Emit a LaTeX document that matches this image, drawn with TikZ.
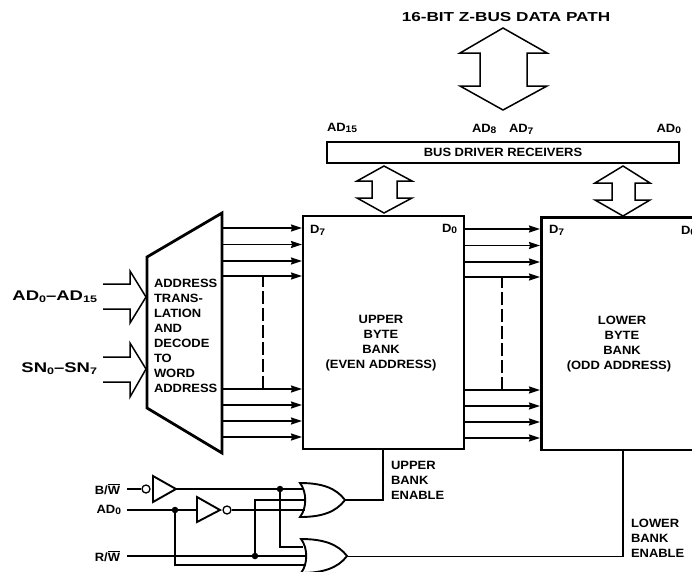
\documentclass[tikz,border=0pt]{standalone}
\usepackage{fontspec}
\setmainfont{Liberation Sans}
\newfontfamily\widefont[FakeStretch=1.08]{Liberation Sans}
\newfontfamily\widerfont[FakeStretch=1.32]{Liberation Sans}
\newcommand{\lowsub}[1]{\raisebox{-0.28ex}{\fontsize{9.5}{9.5}\selectfont #1}}
\newcommand{\barW}{$\overline{\mbox{\bfseries W}}$}
\usetikzlibrary{arrows.meta}
\tikzset{
  x=1pt,y=-1pt,
  lbl/.style={font=\widefont\fontsize{12}{15}\selectfont\bfseries,inner sep=0pt,outer sep=0pt},
  lblw/.style={lbl,anchor=west},
  lble/.style={lbl,anchor=east},
  lblc/.style={lbl,align=center},
  big/.style={font=\widerfont\fontsize{13}{15}\selectfont\bfseries,inner sep=0pt,outer sep=0pt},
  bigin/.style={font=\widerfont\fontsize{14}{15}\selectfont\bfseries,inner sep=0pt,outer sep=0pt,anchor=east},
  bankbox/.style={draw,line width=2.6pt,inner sep=0pt,minimum width=161pt,minimum height=233pt},
  wire/.style={line width=1.4pt},
  busarr/.style={wire,-{Stealth[length=11pt,width=7pt,inset=1pt]}},
  outline/.style={line width=1.5pt,line join=miter,fill=white},
  gate/.style={line width=1.9pt,fill=white},
  dot/.style={circle,fill=black,inner sep=0pt,minimum size=6.5pt},
  bubble/.style={circle,draw,line width=1.3pt,fill=white,inner sep=0pt,minimum size=8pt},
  dashwire/.style={wire,dash pattern=on 13pt off 4pt},
}
\begin{document}
\begin{tikzpicture}
\useasboundingbox (0,0) rectangle (692,571);
% title and bus arrow
\node[big] (title) at (506,17) {16-BIT Z-BUS DATA PATH};
\draw[outline] (503,28) -- (547,53) -- (527,53) -- (527,86) -- (547,86) -- (503,110) -- (460,86) -- (480,86) -- (480,53) -- (460,53) -- cycle;
% bus driver
\node[draw,line width=2.6pt,inner sep=0pt,minimum width=352pt,minimum height=21pt,lbl] (driver) at (503,152.5) {BUS DRIVER RECEIVERS};
\node[lblw] (ad15) at (327,128) {AD\lowsub{15}};
\node[lblw] (ad8) at (472,129) {AD\lowsub{8}};
\node[lblw] (ad7) at (509,129) {AD\lowsub{7}};
\node[lble] (ad0top) at (681,129) {AD\lowsub{0}};
% banks
\node[bankbox] (upper) at (383.5,332.5) {};
\draw[line width=2.6pt] (692,217.5) -- (541.5,217.5) -- (541.5,450) -- (692,450);
\coordinate (lowerW) at (541,333);
\node[lblc] (uppertxt) at (381,343) {UPPER\\BYTE\\BANK\\(EVEN ADDRESS)};
\node[lblc] (lowertxt) at (619,344) {\hspace{6pt}LOWER\\\hspace{6pt}BYTE\\\hspace{6pt}BANK\\(ODD ADDRESS)};
\node[lblw] (ud7) at (310,230) {D\lowsub{7}};
\node[lblw] (ud0) at (442,229) {D\lowsub{0}};
\node[lblw] (ld7) at (549,230) {D\lowsub{7}};
\node[lblw] (ld0) at (681,231) {D\lowsub{0}};
% small double arrows
\draw[outline] (384,166) -- (412,181) -- (397,181) -- (397,198) -- (412,198) -- (384,213) -- (357,198) -- (372,198) -- (372,181) -- (357,181) -- cycle;
\draw[outline] (623,166) -- (650,183) -- (635,183) -- (635,200) -- (650,200) -- (623,216) -- (595,200) -- (612,200) -- (612,183) -- (595,183) -- cycle;
% translation block
\draw[line width=2.8pt,line join=miter] (147,257) -- (222,213) -- (222,453) -- (147,408) -- cycle;
\node[lblw,align=left,anchor=north west] (mux) at (154,279) {ADDRESS\\TRANS-\\LATION\\AND\\DECODE\\TO\\WORD\\ADDRESS};
% input arrows
\draw[outline,fill=none,line join=miter] (103,284) -- (130,284) -- (130,271) -- (146,297) -- (130,323) -- (130,309) -- (103,309);
\draw[outline,fill=none,line join=miter] (103,357) -- (130,357) -- (130,343) -- (146,369) -- (130,397) -- (130,382) -- (103,382);
\node[bigin] (adin) at (97,297) {AD\lowsub{0}–AD\lowsub{15}};
\node[bigin] (snin) at (97,369) {SN\lowsub{0}–SN\lowsub{7}};
% data arrows
\foreach \y in {228,244.5,261,276,389,405,421,437}
  \draw[busarr] (223,\y) -- (302,\y);
\foreach \y in {229,245.5,262,277,390,406,422,438}
  \draw[busarr] (465,\y) -- (540,\y);
\draw[dashwire] (263,389) -- (263,277);
\draw[dashwire] (502,390) -- (502,278);
% logic inputs
\node[lble] (bw) at (120,489) {B/\barW};
\node[lble] (adz) at (121,510) {AD\lowsub{0}};
\node[lble] (rw) at (120,556) {R/\barW};
\coordinate (bwS) at (127,489);
\coordinate (adS) at (127,510);
\coordinate (rwS) at (127,556);
% inverters
\node[bubble] (b1) at (146,489) {};
\node[bubble] (b2) at (227,510) {};
\draw[wire] (bwS) -- (b1);
\draw[wire] (adS) -- (197,510);
\draw[wire] (b2) -- (305,510);
\draw[wire] (176,489) -- (303,489);
\draw[wire] (rwS) -- (307,556);
\draw[wire] (255,556) -- (255,500) -- (306,500);
\draw[wire] (280,489) -- (280,547) -- (303,547);
\draw[wire] (175,510) -- (175,565) -- (306,565);
\draw[gate] (153,476) -- (176,489) -- (153,502) -- cycle;
\draw[gate] (197,497) -- (220,510) -- (197,522) -- cycle;
\node[dot] (d1) at (280,489) {};
\node[dot] (d2) at (175,510) {};
\node[dot] (d3) at (255,556) {};
% OR gates
\draw[gate,fill=none,line join=miter] (300,483) .. controls (307,492) and (307,508) .. (300,517)
  .. controls (322,517) and (336,512) .. (345,500)
  .. controls (336,488) and (322,483) .. (300,483) -- cycle;
\draw[gate,fill=none,line join=miter] (301,539) .. controls (308,548) and (308,564) .. (301,573)
  .. controls (323,573) and (338,568) .. (347,556)
  .. controls (338,544) and (323,539) .. (301,539) -- cycle;
\coordinate (or1) at (345,500);
\coordinate (or2) at (347,556.5);
\draw[wire] (or1) -- (383,500) -- (383,449);
\draw[wire] (or2) -- (623,556.5) -- (623,450);
\node[lblw,align=left,anchor=north west] (ue) at (391,461) {UPPER\\BANK\\ENABLE};
\node[lblw,align=left,anchor=north west] (le) at (631,519) {LOWER\\BANK\\ENABLE};
\end{tikzpicture}
\end{document}
